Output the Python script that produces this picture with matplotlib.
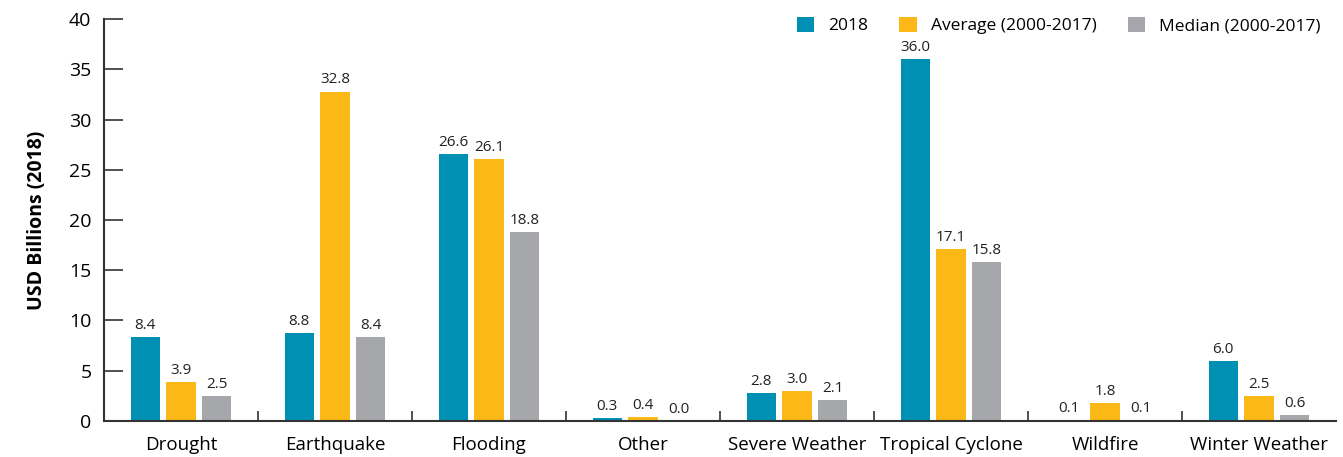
import matplotlib
matplotlib.use('Agg')
import matplotlib.pyplot as plt
from matplotlib.ticker import FixedLocator
import numpy as np

categories = ['Drought', 'Earthquake', 'Flooding', 'Other', 'Severe Weather',
              'Tropical Cyclone', 'Wildfire', 'Winter Weather']
series_names = ['2018', 'Average (2000-2017)', 'Median (2000-2017)']
values_2018 = [8.4, 8.8, 26.6, 0.3, 2.8, 36.0, 0.1, 6.0]
values_avg = [3.9, 32.8, 26.1, 0.4, 3.0, 17.1, 1.8, 2.5]
values_med = [2.5, 8.4, 18.8, 0.0, 2.1, 15.8, 0.1, 0.6]
colors = ['#0090b4', '#fbb817', '#a6a7aa']

plt.rcParams['font.family'] = ['Open Sans', 'DejaVu Sans']


def main():
    fig = plt.figure(figsize=(13.43, 4.57), dpi=100)
    ax = fig.add_axes([0.0774, 0.079, 0.9174, 0.879])

    x = np.arange(len(categories))
    width = 0.19
    step = 0.232
    for i, (vals, name) in enumerate(zip([values_2018, values_avg, values_med], series_names)):
        pos = x + (i - 1) * step
        ax.bar(pos, vals, width=width, color=colors[i], label=name)
        for p, v in zip(pos, vals):
            ax.text(p, v + 0.4, f'{v:.1f}', ha='center', va='bottom', fontsize=11, color='#222222')

    ax.set_xlim(-0.5, len(categories) - 0.5)
    ax.set_ylim(0, 40)
    ax.set_yticks(range(0, 41, 5))
    ax.set_xticks(x)
    ax.set_xticklabels(categories, fontsize=13.5)
    ax.xaxis.set_minor_locator(FixedLocator(np.arange(0.5, len(categories) - 0.5, 1)))
    ax.tick_params(axis='x', which='major', length=0, pad=11)
    ax.tick_params(axis='x', which='minor', direction='in', length=7, width=1.2, color='#333333')
    ax.tick_params(axis='y', direction='in', length=14, width=1.2, color='#333333', labelsize=14, pad=9)

    for s in ['top', 'right']:
        ax.spines[s].set_visible(False)
    for s in ['left', 'bottom']:
        ax.spines[s].set_linewidth(1.5)
        ax.spines[s].set_color('#333333')

    ax.set_ylabel('USD Billions (2018)', fontsize=14, fontweight='bold', labelpad=16)

    ax.legend(loc='upper right', bbox_to_anchor=(1.0, 1.045), ncol=3, frameon=False, fontsize=12.5,
              handlelength=1.0, handleheight=1.0, handletextpad=0.8, columnspacing=1.8)

    fig.savefig('out.png', dpi=100)


if __name__ == '__main__':
    main()
